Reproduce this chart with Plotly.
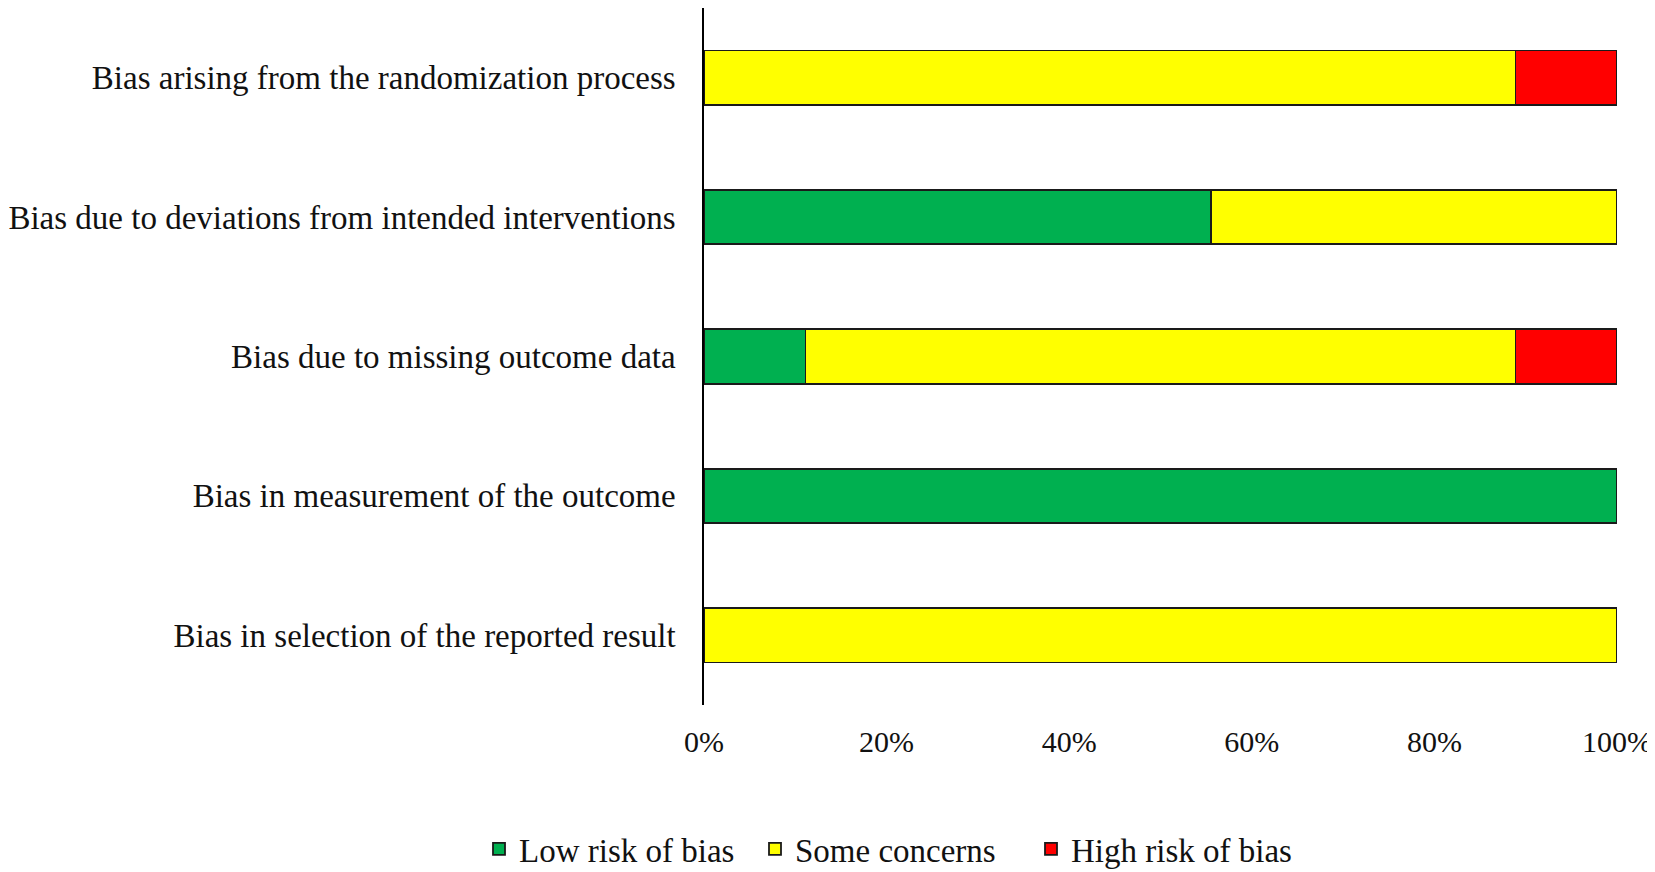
import plotly.graph_objects as go

categories = [
    "Bias arising from the randomization process",
    "Bias due to deviations from intended interventions",
    "Bias due to missing outcome data",
    "Bias in measurement of the outcome",
    "Bias in selection of the reported result",
]
low = [0.0, 5/9, 1/9, 1.0, 0.0]
some = [8/9, 4/9, 7/9, 0.0, 1.0]
high = [1/9, 0.0, 1/9, 0.0, 0.0]
tick_vals = [0, 0.2, 0.4, 0.6, 0.8, 1.0]
tick_text = ["0%", "20%", "40%", "60%", "80%", "100%"]

series = [
    ("Low risk of bias", low, "#00B050"),
    ("Some concerns", some, "#FFFF00"),
    ("High risk of bias", high, "#FF0000"),
]

fig = go.Figure()
for name, vals, col in series:
    fig.add_trace(go.Bar(
        y=categories, x=vals, name=name, orientation="h",
        marker=dict(color=col, line=dict(color="#1a1a1a", width=1.8)),
        width=0.39,
    ))

# page body has an 8px default margin, so figure is sized to fit the window
W, H = 1647, 864
fig.update_layout(
    barmode="stack",
    width=W, height=H,
    margin=dict(l=689, r=38, t=0, b=167),
    paper_bgcolor="white", plot_bgcolor="white",
    font=dict(family="Liberation Serif", size=33, color="#111111"),
    showlegend=True,
    legend=dict(orientation="h", xref="container", yref="container",
                x=885 / W, xanchor="center", y=1 - 841 / H, yanchor="middle",
                font=dict(size=33), traceorder="normal", itemwidth=30,
                entrywidth=231, entrywidthmode="pixels"),
    xaxis=dict(range=[0, 1.0], tickvals=tick_vals, ticktext=tick_text,
               showgrid=False, zeroline=False, showline=False,
               tickfont=dict(size=30), ticks="", ticklabelstandoff=16,
               ticklabeloverflow="allow"),
    yaxis=dict(categoryorder="array", categoryarray=categories[::-1],
               range=[-0.5, 4.5], showline=True, linecolor="black", linewidth=1.5,
               showgrid=False, ticks="", ticklabelstandoff=20),
)
fig.write_html("out.html")
